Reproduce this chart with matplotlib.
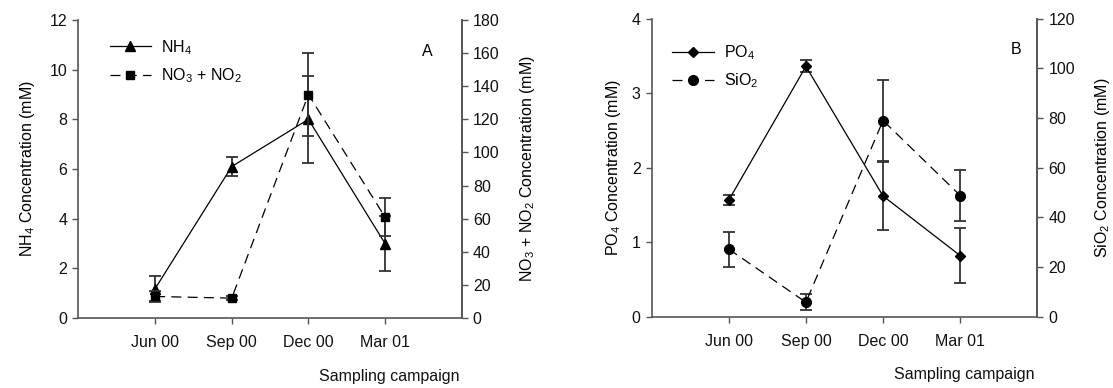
import matplotlib
matplotlib.use("Agg")
import matplotlib.pyplot as plt
from matplotlib.lines import Line2D

plt.rcParams['font.family'] = ['Liberation Sans', 'DejaVu Sans']
plt.rcParams['mathtext.fontset'] = 'custom'
plt.rcParams['mathtext.rm'] = 'Liberation Sans'
plt.rcParams['mathtext.it'] = 'Liberation Sans'
plt.rcParams['mathtext.default'] = 'regular'

campaigns = ["Jun 00", "Sep 00", "Dec 00", "Mar 01"]
positions = [1, 2, 3, 4]

nh4 = [1.18, 6.1, 8.0, 3.0]
nh4_err = [0.5, 0.37, 1.75, 1.09]
no3_no2 = [13.0, 12.0, 135.0, 61.0]
no3_no2_err = [3.5, 1.0, 25.0, 11.6]

po4 = [1.565, 3.36, 1.62, 0.82]
po4_err = [0.07, 0.08, 0.45, 0.37]
sio2 = [27.2, 5.8, 79.0, 48.8]
sio2_err = [7.0, 3.2, 16.5, 10.3]

FS = 11.5
AX_COL = '#555555'
ERR_COL = '#333333'

fig = plt.figure(figsize=(11.13, 3.88), dpi=100)


def style_axes(ax, ax2):
    for a in (ax, ax2):
        a.spines['top'].set_visible(False)
        for s in a.spines.values():
            s.set_color(AX_COL)
            s.set_linewidth(1.2)
        a.tick_params(colors=AX_COL, labelcolor='#111111', labelsize=FS,
                      length=4.5, width=1.0, direction='out')
    ax2.spines['left'].set_visible(False)
    ax2.spines['bottom'].set_visible(False)
    ax.set_xlim(0, 5)
    ax.set_xticks(positions)
    ax.set_xticklabels(campaigns)
    ax.tick_params(axis='x', pad=8)


def panel(rect, y1, e1, y2, e2, lim1, ticks1, lim2, ticks2,
          lab1, lab2, m1, m2, ms1, ms2, leg1, leg2, letter, letter_xy, leg_anchor,
          pad1, pad2):
    ax = fig.add_axes(rect)
    ax2 = ax.twinx()
    ax.errorbar(positions, y1, yerr=e1, color='black', lw=0.9,
                marker=m1, ms=ms1, ecolor=ERR_COL, elinewidth=1.3,
                capsize=4.3, capthick=1.3, zorder=3)
    ax2.errorbar(positions, y2, yerr=e2, color='black', lw=0.9,
                 ls=(0, (8, 5)), marker=m2, ms=ms2, ecolor=ERR_COL,
                 elinewidth=1.3, capsize=4.3, capthick=1.3, zorder=3)
    ax.set_ylim(*lim1)
    ax.set_yticks(ticks1)
    ax2.set_ylim(*lim2)
    ax2.set_yticks(ticks2)
    style_axes(ax, ax2)
    ax.set_ylabel(lab1, fontsize=FS, labelpad=pad1)
    ax2.set_ylabel(lab2, fontsize=FS, labelpad=pad2)
    h1 = Line2D([], [], color='black', lw=0.9, marker=m1, ms=ms1)
    h2 = Line2D([], [], color='black', lw=0.9, ls=(0, (8, 5)), marker=m2, ms=ms2)
    ax.legend([h1, h2], [leg1, leg2], loc='upper left', bbox_to_anchor=leg_anchor,
              frameon=False, fontsize=FS, handlelength=2.6, handletextpad=0.65,
              labelspacing=0.6, borderaxespad=0, borderpad=0)
    ax.text(letter_xy[0], letter_xy[1], letter, transform=ax.transAxes,
            fontsize=FS, ha='center', va='center')
    return ax


axA = panel([0.0705, 0.1804, 0.3443, 0.768], nh4, nh4_err, no3_no2, no3_no2_err,
            (0, 12), [0, 2, 4, 6, 8, 10, 12], (0, 180), list(range(0, 181, 20)),
            'NH$_4$ Concentration (mM)', 'NO$_3$ + NO$_2$ Concentration (mM)',
            '^', 's', 6.5, 5.5, 'NH$_4$', 'NO$_3$ + NO$_2$', 'A', (0.911, 0.895),
            (0.081, 0.94), 9, 13)

axB = panel([0.5855, 0.1838, 0.3465, 0.768], po4, po4_err, sio2, sio2_err,
            (0, 4), [0, 1, 2, 3, 4], (0, 120), list(range(0, 121, 20)),
            'PO$_4$ Concentration (mM)', 'SiO$_2$ Concentration (mM)',
            'D', 'o', 5.5, 7.0, 'PO$_4$', 'SiO$_2$', 'B', (0.944, 0.895),
            (0.053, 0.917), 6, 13)

fig.text(389 / 1113, 1 - 377 / 388, 'Sampling campaign', fontsize=FS,
         ha='center', va='center', color='#111111')
fig.text(964 / 1113, 1 - 375 / 388, 'Sampling campaign', fontsize=FS,
         ha='center', va='center', color='#111111')

fig.savefig('out.png', dpi=100)
